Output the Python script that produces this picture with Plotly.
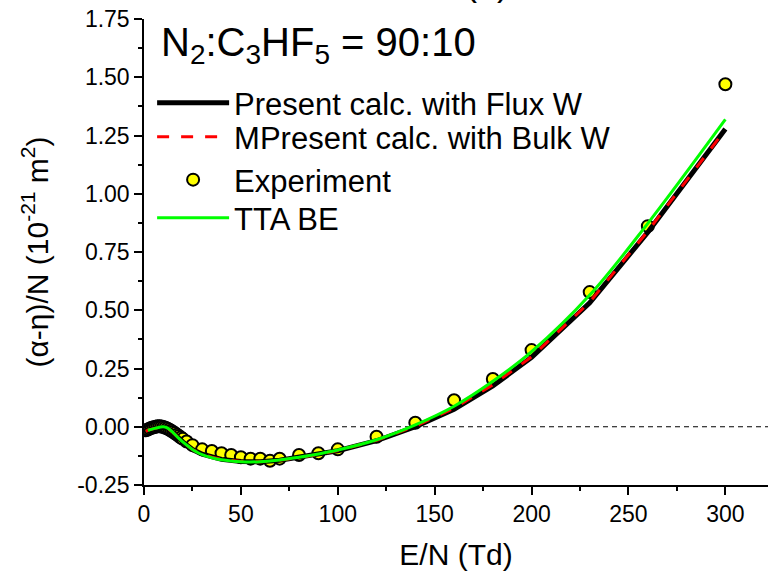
import plotly.graph_objects as go

# ---- data ----
exp_x = [1, 2, 3, 4, 5, 6, 7, 8, 9, 10, 11, 12, 13, 14, 15, 16, 17, 18, 19, 20, 22,
         25, 30, 35, 40, 45, 50, 55, 60, 65, 70, 80, 90, 100, 120, 140, 160, 180, 200,
         230, 260, 300]
exp_y = [-0.015, -0.012, -0.008, -0.004, -0.002, 0.0, 0.002, 0.002, 0.001, -0.001,
         -0.004, -0.008, -0.012, -0.017, -0.022, -0.028, -0.034, -0.040, -0.046, -0.052,
         -0.063, -0.079, -0.097, -0.104, -0.114, -0.121, -0.131, -0.137, -0.137, -0.146,
         -0.137, -0.121, -0.114, -0.097, -0.043, 0.017, 0.114, 0.205, 0.329, 0.578,
         0.861, 1.47]

calc_x = [1, 2, 5, 8, 10, 12, 15, 20, 25, 30, 35, 40, 50, 60, 70, 80, 90, 100, 120,
          140, 160, 180, 200, 230, 260, 300]
flux_y = [-0.02, -0.015, -0.008, -0.003, -0.002, -0.006, -0.025, -0.065, -0.098, -0.118,
          -0.131, -0.140, -0.149, -0.150, -0.144, -0.132, -0.119, -0.103, -0.060, 0.000,
          0.075, 0.175, 0.298, 0.532, 0.835, 1.278]
bulk_y = [-0.02, -0.015, -0.008, -0.003, -0.002, -0.006, -0.025, -0.065, -0.098, -0.118,
          -0.131, -0.140, -0.149, -0.150, -0.144, -0.132, -0.119, -0.102, -0.058, 0.002,
          0.080, 0.180, 0.300, 0.535, 0.840, 1.275]

tta_x = [2, 5, 8, 10, 12, 15, 18, 20, 23, 26, 30, 35, 40, 45, 50, 55, 60, 70, 80, 90,
         100, 120, 140, 160, 180, 200, 230, 260, 300]
tta_y = [-0.015, -0.008, -0.002, 0.0, -0.005, -0.025, -0.05, -0.065, -0.085, -0.103,
         -0.12, -0.133, -0.142, -0.147, -0.150, -0.151, -0.150, -0.143, -0.131, -0.117,
         -0.100, -0.056, 0.008, 0.088, 0.195, 0.322, 0.565, 0.873, 1.319]

x_ticks = [0, 50, 100, 150, 200, 250, 300]
y_ticks = [-0.25, 0.0, 0.25, 0.5, 0.75, 1.0, 1.25, 1.5, 1.75]
y_tick_text = ["-0.25", "0.00", "0.25", "0.50", "0.75", "1.00", "1.25", "1.50", "1.75"]

FONT = "Liberation Sans, Arial, sans-serif"

fig = go.Figure()
fig.add_trace(go.Scatter(x=exp_x, y=exp_y, mode="markers", name="Experiment",
                         legend="legend3",
                         marker=dict(size=12, color="#ffff00",
                                     line=dict(color="black", width=2))))
fig.add_trace(go.Scatter(x=calc_x, y=flux_y, mode="lines", name="Present calc. with Flux W",
                         legend="legend", line=dict(color="black", width=5)))
fig.add_trace(go.Scatter(x=calc_x, y=bulk_y, mode="lines", name="MPresent calc. with Bulk W",
                         legend="legend2", line=dict(color="#ff0000", width=3, dash="12px,12px")))
fig.add_trace(go.Scatter(x=tta_x, y=tta_y, mode="lines", name="TTA BE",
                         legend="legend4", line=dict(color="#00ff00", width=3, shape="spline")))

fig.add_shape(type="line", xref="paper", yref="y", x0=0, x1=1, y0=0, y1=0,
              line=dict(color="black", width=1, dash="5px,4px"), layer="below")

fig.add_annotation(text="N<sub>2</sub>:C<sub>3</sub>HF<sub>5</sub> = 90:10",
                   xref="paper", yref="paper", x=0.024, y=0.944, xanchor="left",
                   yanchor="middle", showarrow=False,
                   font=dict(family=FONT, size=40, color="black"))
fig.add_annotation(text="(b)", xref="paper", yref="paper", x=0.55, y=1.0,
                   xanchor="center", yanchor="bottom", yshift=14, showarrow=False,
                   font=dict(family=FONT, size=36, color="black"))

def leg(ypos):
    return dict(x=0.013, y=ypos, xanchor="left", yanchor="middle",
                bgcolor="rgba(0,0,0,0)", font=dict(family=FONT, size=31),
                itemwidth=72)

fig.update_layout(
    width=768, height=575,
    margin=dict(l=144, r=0, t=19, b=90),
    paper_bgcolor="white", plot_bgcolor="white",
    font=dict(family=FONT, color="black"),
    showlegend=True,
    legend=leg(0.8197),
    legend2=leg(0.7468),
    legend3=leg(0.6545),
    legend4=leg(0.573),
    xaxis=dict(range=[0, 322], tickvals=x_ticks, ticks="outside", ticklen=8,
               tickwidth=1.5, tickcolor="black", showline=True, linecolor="black",
               linewidth=1.5, showgrid=False, zeroline=False,
               tickfont=dict(size=23), title=dict(text="E/N (Td)", font=dict(size=30), standoff=18),
               minor=dict(dtick=25, ticks="outside", ticklen=4, tickcolor="black", tickwidth=1.5)),
    yaxis=dict(range=[-0.25, 1.75], tickvals=y_ticks, ticktext=y_tick_text, ticks="outside",
               ticklen=8, tickwidth=1.5, tickcolor="black", showline=True,
               linecolor="black", linewidth=1.5, showgrid=False, zeroline=False,
               tickfont=dict(size=23),
               title=dict(text="(\u03b1-\u03b7)/N (10<sup>-21</sup> m<sup>2</sup>)",
                          font=dict(size=30), standoff=20),
               minor=dict(dtick=0.125, ticks="outside", ticklen=4, tickcolor="black", tickwidth=1.5)),
)

fig.write_html("out.html")
